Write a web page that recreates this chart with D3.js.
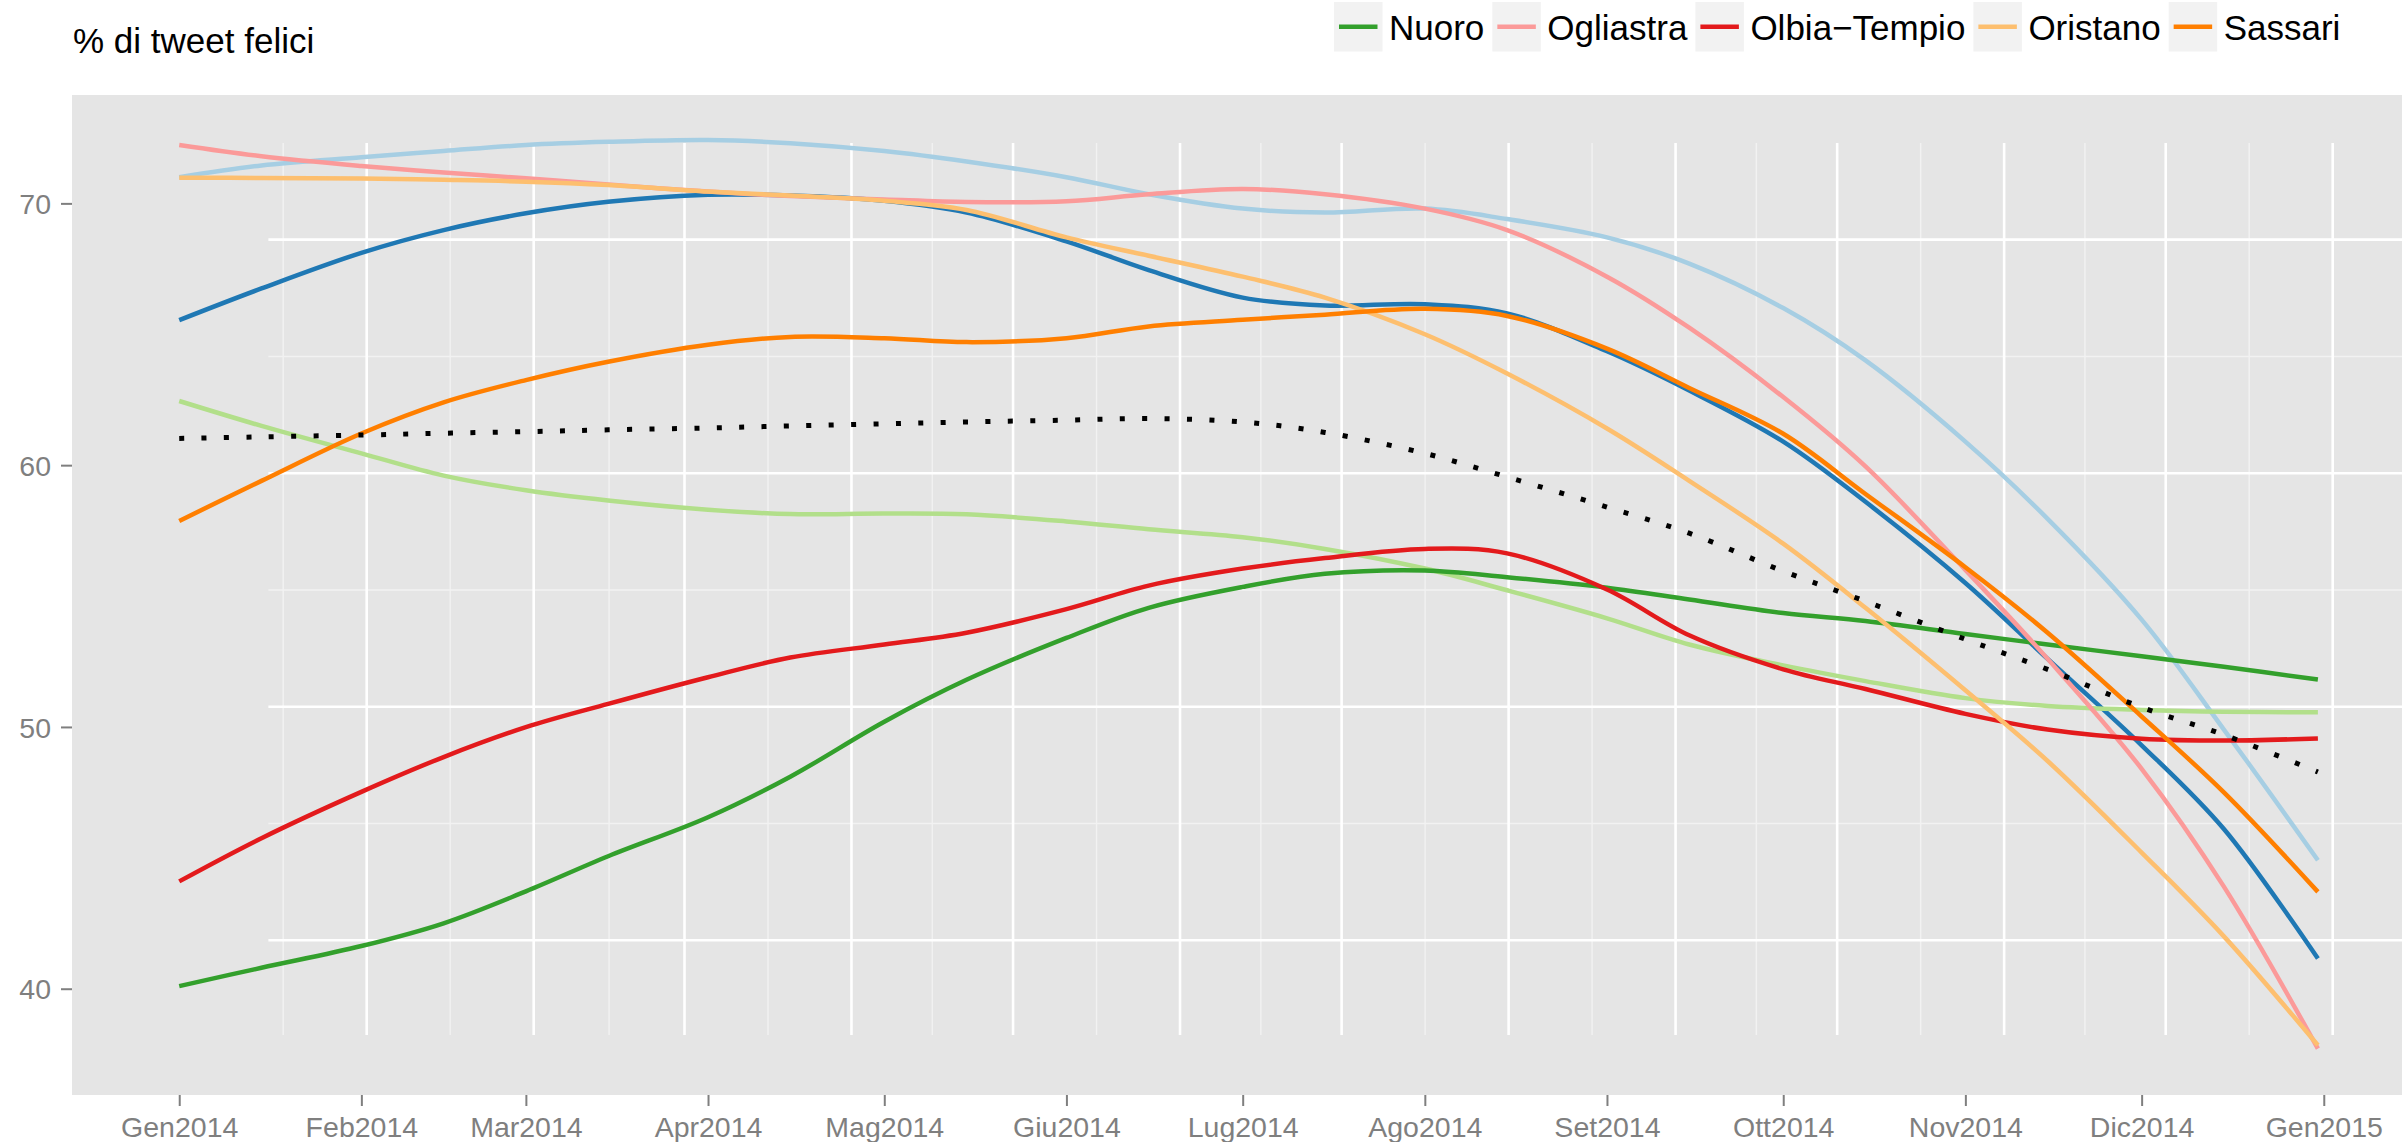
<!DOCTYPE html>
<html>
<head>
<meta charset="utf-8">
<script src="https://cdn.jsdelivr.net/npm/d3@7"></script>
<style>
  html, body { margin: 0; padding: 0; background: #ffffff; }
  svg { display: block; }
</style>
</head>
<body>
<svg id="chart" width="2402" height="1142"></svg>
<script>
// ---- data: smoothed share of happy tweets (%) per province, 2014 ----
const dates = [
  "2014-01-01","2014-01-15","2014-02-01","2014-02-15","2014-03-01","2014-03-15",
  "2014-04-01","2014-04-15","2014-05-01","2014-05-15","2014-06-01","2014-06-15",
  "2014-07-01","2014-07-15","2014-08-01","2014-08-15","2014-09-01","2014-09-15",
  "2014-10-01","2014-10-15","2014-11-01","2014-11-15","2014-12-01","2014-12-15",
  "2014-12-31"
];
const cagliari = [71.0, 71.45, 71.76, 72.0, 72.23, 72.35, 72.42, 72.3, 72.0, 71.6, 71.0, 70.35,
  69.8, 69.65, 69.8, 69.4, 68.7, 67.7, 66.0, 64.0, 60.9, 57.95, 54.1, 49.9, 44.91];
const carbonia = [65.54, 66.75, 68.11, 68.98, 69.62, 70.06, 70.33, 70.3, 70.1, 69.65, 68.55, 67.45,
  66.4, 66.1, 66.15, 65.8, 64.35, 62.85, 60.9, 58.6, 55.5, 52.6, 49.3, 46.1, 41.15];
const medioCampidano = [62.45, 61.5, 60.45, 59.6, 59.04, 58.65, 58.3, 58.13, 58.15, 58.12, 57.85, 57.55,
  57.25, 56.8, 56.05, 55.22, 54.15, 53.15, 52.35, 51.75, 51.1, 50.8, 50.65, 50.58, 50.56];
const nuoro = [40.1, 40.8, 41.63, 42.5, 43.72, 45.06, 46.55, 48.1, 50.2, 51.8, 53.4, 54.55,
  55.35, 55.85, 55.98, 55.72, 55.32, 54.87, 54.35, 54.05, 53.55, 53.15, 52.7, 52.3, 51.81];
const ogliastra = [72.23, 71.8, 71.43, 71.18, 70.96, 70.72, 70.45, 70.28, 70.15, 70.05, 70.08, 70.35,
  70.55, 70.35, 69.8, 68.98, 67.2, 65.25, 62.6, 59.95, 56.0, 52.6, 48.4, 43.9, 37.71];
const olbiaTempio = [44.1, 45.75, 47.52, 48.85, 49.99, 50.88, 51.9, 52.65, 53.15, 53.6, 54.5, 55.4,
  56.05, 56.45, 56.8, 56.63, 55.25, 53.5, 52.2, 51.45, 50.5, 49.9, 49.55, 49.48, 49.56];
const oristano = [70.98, 70.97, 70.95, 70.9, 70.83, 70.7, 70.45, 70.3, 70.1, 69.75, 68.7, 68.0,
  67.2, 66.4, 65.0, 63.5, 61.4, 59.4, 57.0, 54.55, 51.4, 48.7, 45.2, 42.0, 37.84];
const sassari = [57.87, 59.4, 61.21, 62.4, 63.25, 63.95, 64.6, 64.9, 64.85, 64.7, 64.85, 65.3,
  65.55, 65.75, 65.97, 65.7, 64.45, 62.95, 61.2, 58.9, 56.1, 53.6, 50.4, 47.5, 43.7];
const sardegna = [61.02, 61.08, 61.15, 61.22, 61.28, 61.35, 61.42, 61.5, 61.58, 61.65, 61.72, 61.78,
  61.65, 61.25, 60.45, 59.55, 58.4, 57.4, 55.95, 54.8, 53.35, 52.2, 50.75, 49.7, 48.28];

const monthNames = ["Gen","Feb","Mar","Apr","Mag","Giu","Lug","Ago","Set","Ott","Nov","Dic"];
const yTickValues = [40, 50, 60, 70];
const legendNames = ["Nuoro", "Ogliastra", "Olbia\u2212Tempio", "Oristano", "Sassari"];
const titleText = "% di tweet felici";

// ---- styles ----
const colors = {
  "Cagliari": "#A6CEE3",
  "Carbonia-Iglesias": "#1F78B4",
  "Medio Campidano": "#B2DF8A",
  "Nuoro": "#33A02C",
  "Ogliastra": "#FB9A99",
  "Olbia\u2212Tempio": "#E31A1C",
  "Oristano": "#FDBF6F",
  "Sassari": "#FF7F00",
  "Sardegna": "#000000"
};
const FONT = "'Liberation Sans', Arial, Helvetica, sans-serif";
const AXIS_GREY = "#7F7F7F";

// series table, in drawing order
const series = [
  { name: "Cagliari", values: cagliari },
  { name: "Carbonia-Iglesias", values: carbonia },
  { name: "Medio Campidano", values: medioCampidano },
  { name: "Nuoro", values: nuoro },
  { name: "Ogliastra", values: ogliastra },
  { name: "Olbia\u2212Tempio", values: olbiaTempio },
  { name: "Oristano", values: oristano },
  { name: "Sassari", values: sassari },
  { name: "Sardegna", values: sardegna, dotted: true }
];

const parse = d3.utcParse("%Y-%m-%d");
const times = dates.map(parse);

// ---- layout ----
const svg = d3.select("#chart").attr("font-family", FONT);
const panel = { left: 72, right: 2431, top: 95, bottom: 1095 };
const gridPanel = { left: 268.4, right: 2431, top: 143, bottom: 1035 };

const t0 = Date.UTC(2014, 0, 1), t1 = Date.UTC(2015, 0, 1);
const pad = (t1 - t0) * 0.05;
const xDomain = [new Date(t0 - pad), new Date(t1 + pad)];
const yDomain = [35.94, 74.14];

const x = d3.scaleUtc().domain(xDomain).range([panel.left, panel.right]);
const y = d3.scaleLinear().domain(yDomain).range([panel.bottom, panel.top]);

// second frame of reference used by the grid layer
const gx = d3.scaleUtc().domain(xDomain).range([gridPanel.left, gridPanel.right]);
const gy = d3.scaleLinear().domain(yDomain).range([gridPanel.bottom, gridPanel.top]);

// ---- panel background ----
svg.append("rect")
  .attr("x", panel.left).attr("y", panel.top)
  .attr("width", panel.right - panel.left).attr("height", panel.bottom - panel.top)
  .attr("fill", "#E5E5E5");

// ---- grid ----
const grid = svg.append("g");
const majorMonths = d3.utcMonth.range(d3.utcMonth.floor(xDomain[0]), d3.utcMonth.offset(d3.utcMonth.ceil(xDomain[1]), 1));
const minorMonths = [];
for (let i = 0; i < majorMonths.length - 1; i++) {
  minorMonths.push(new Date((+majorMonths[i] + +majorMonths[i + 1]) / 2));
}
const inX = d => d >= xDomain[0] && d <= xDomain[1];
const yMajor = gy.ticks(4).filter(v => v >= yDomain[0] && v <= yDomain[1]);
const yMinor = [];
for (let i = 0; i < yMajor.length - 1; i++) yMinor.push((yMajor[i] + yMajor[i + 1]) / 2);

grid.selectAll(".hmin").data(yMinor).join("line")
  .attr("x1", gridPanel.left).attr("x2", gridPanel.right)
  .attr("y1", d => gy(d)).attr("y2", d => gy(d))
  .attr("stroke", "#F2F2F2").attr("stroke-width", 1.4);
grid.selectAll(".vmin").data(minorMonths.filter(inX)).join("line")
  .attr("x1", d => gx(d)).attr("x2", d => gx(d))
  .attr("y1", gridPanel.top).attr("y2", gridPanel.bottom)
  .attr("stroke", "#F2F2F2").attr("stroke-width", 1.4);
grid.selectAll(".hmaj").data(yMajor).join("line")
  .attr("x1", gridPanel.left).attr("x2", gridPanel.right)
  .attr("y1", d => gy(d)).attr("y2", d => gy(d))
  .attr("stroke", "#FFFFFF").attr("stroke-width", 2.6);
grid.selectAll(".vmaj").data(majorMonths.filter(inX)).join("line")
  .attr("x1", d => gx(d)).attr("x2", d => gx(d))
  .attr("y1", gridPanel.top).attr("y2", gridPanel.bottom)
  .attr("stroke", "#FFFFFF").attr("stroke-width", 2.6);

// ---- lines ----
const line = d3.line()
  .x((d, i) => x(times[i]))
  .y(d => y(d))
  .curve(d3.curveCatmullRom.alpha(0.5));

svg.append("g").selectAll("path").data(series).join("path")
  .attr("d", s => line(s.values))
  .attr("fill", "none")
  .attr("stroke", s => colors[s.name])
  .attr("stroke-width", s => s.dotted ? 5 : 4.5)
  .attr("stroke-dasharray", s => s.dotted ? "5 17.4" : null)
  .attr("stroke-linecap", "butt")
  .attr("stroke-linejoin", "round");

// ---- axes ----
const monthTicks = d3.utcMonth.range(new Date(t0), new Date(t1 + 1));
const xAxis = d3.axisBottom(x)
  .tickValues(monthTicks)
  .tickFormat(d => monthNames[d.getUTCMonth()] + d.getUTCFullYear())
  .tickSize(11).tickPadding(10.5);
svg.append("g")
  .attr("transform", `translate(0,${panel.bottom})`)
  .call(xAxis)
  .call(g => g.select(".domain").remove())
  .call(g => g.attr("font-family", FONT).attr("font-size", 28.5))
  .call(g => g.selectAll(".tick line").attr("stroke", AXIS_GREY).attr("stroke-width", 2))
  .call(g => g.selectAll(".tick text").attr("fill", AXIS_GREY));

const yAxis = d3.axisLeft(y)
  .tickValues(yTickValues)
  .tickSize(11).tickPadding(10);
svg.append("g")
  .attr("transform", `translate(${panel.left},0)`)
  .call(yAxis)
  .call(g => g.select(".domain").remove())
  .call(g => g.attr("font-family", FONT).attr("font-size", 28.5))
  .call(g => g.selectAll(".tick line").attr("stroke", AXIS_GREY).attr("stroke-width", 2))
  .call(g => g.selectAll(".tick text").attr("fill", AXIS_GREY).attr("dy", "0.36em"));

// ---- title ----
svg.append("text")
  .attr("x", 73).attr("y", 53)
  .attr("font-size", 35)
  .attr("fill", "#000")
  .text(titleText);

// ---- legend ----
const legend = svg.append("g");
const keyW = 48.5, keyH = 49.5, keyTop = 2;
let lx = 1334;
legendNames.forEach(name => {
  const item = legend.append("g");
  item.append("rect")
    .attr("x", lx).attr("y", keyTop)
    .attr("width", keyW).attr("height", keyH)
    .attr("fill", "#F2F2F2");
  item.append("line")
    .attr("x1", lx + 5).attr("x2", lx + keyW - 5)
    .attr("y1", keyTop + keyH / 2).attr("y2", keyTop + keyH / 2)
    .attr("stroke", colors[name]).attr("stroke-width", 4.5);
  const t = item.append("text")
    .attr("x", lx + keyW + 6.5).attr("y", 39.5)
    .attr("font-size", 35).attr("fill", "#000")
    .text(name);
  const w = t.node().getComputedTextLength();
  lx = lx + keyW + 6.5 + w + 8;
});
</script>
</body>
</html>
